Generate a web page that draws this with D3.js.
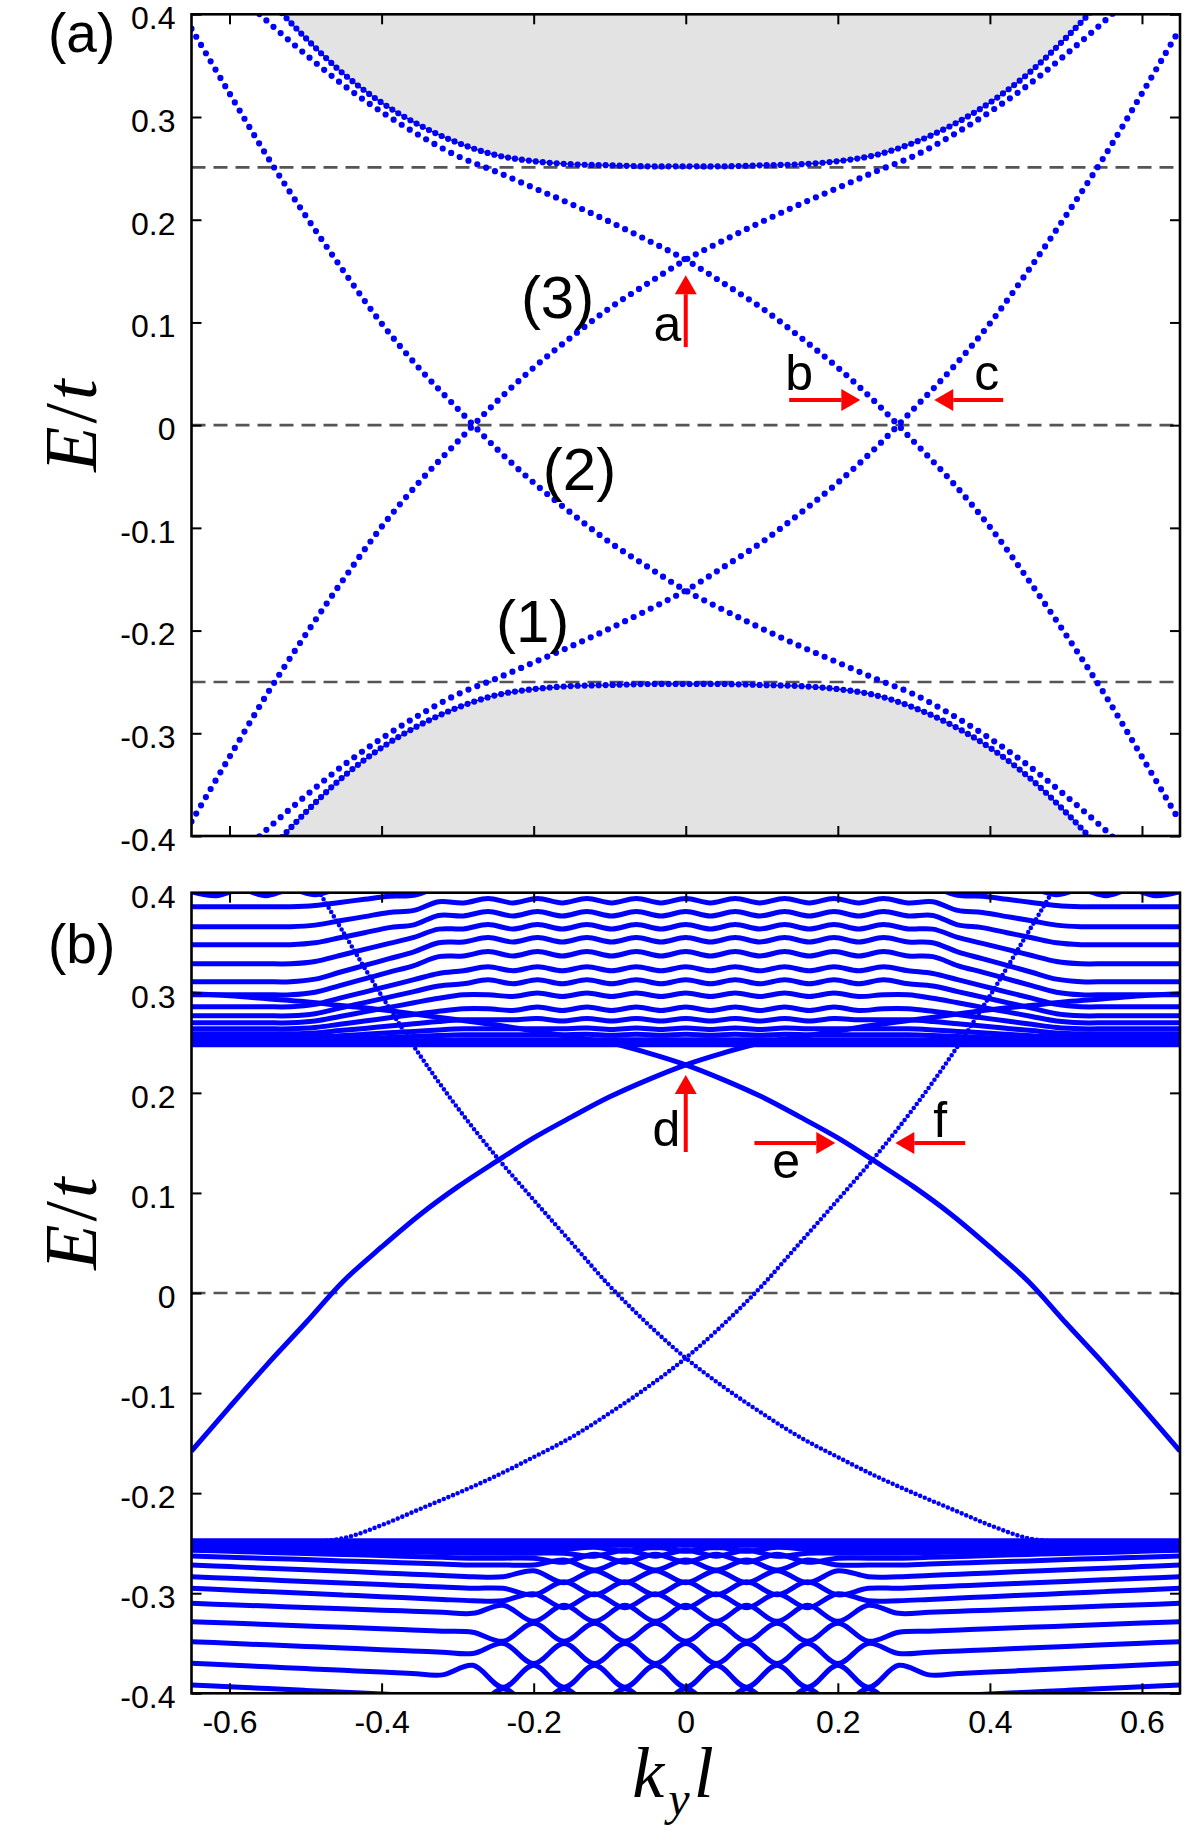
<!DOCTYPE html>
<html><head><meta charset="utf-8">
<script src="https://cdn.jsdelivr.net/npm/d3@7"></script>
<style>body{margin:0;background:#fff}</style>
</head><body>
<svg id="chart" width="1200" height="1843" xmlns="http://www.w3.org/2000/svg"></svg>
<script>
// ---------------- DATA ----------------
const kTicks = [-0.6,-0.4,-0.2,0,0.2,0.4,0.6];
const kTickLabels = ["-0.6","-0.4","-0.2","0","0.2","0.4","0.6"];
const eTicks = [-0.4,-0.3,-0.2,-0.1,0,0.1,0.2,0.3,0.4];
const eTickLabels = ["-0.4","-0.3","-0.2","-0.1","0","0.1","0.2","0.3","0.4"];
const dashedA = [-0.25, 0, 0.251];
const dashedB = [0];

const kGrid = [-0.65,-0.6,-0.55,-0.5,-0.45,-0.4,-0.35,-0.3,-0.25,-0.2,-0.15,-0.1,-0.05,0,0.05,0.1,0.15,0.2,0.25,0.3,0.35,0.4,0.45,0.5,0.55,0.6,0.65];

// panel (a): four edge-state branches
const snakeA1 = [0.386,0.323,0.261,0.204,0.150,0.099,0.055,0.016,-0.022,-0.056,-0.086,-0.114,-0.138,-0.161,-0.180,-0.198,-0.215,-0.231,-0.247,-0.262,-0.282,-0.305,-0.331,-0.361,-0.393,-0.428,-0.465];
const snakeA2 = [-0.386,-0.323,-0.261,-0.204,-0.150,-0.099,-0.055,-0.016,0.022,0.056,0.086,0.114,0.138,0.161,0.180,0.198,0.215,0.231,0.247,0.262,0.282,0.305,0.331,0.361,0.393,0.428,0.465];
const snakeA3 = [-0.465,-0.428,-0.393,-0.361,-0.331,-0.305,-0.282,-0.262,-0.247,-0.231,-0.215,-0.198,-0.180,-0.161,-0.138,-0.114,-0.086,-0.056,-0.022,0.016,0.055,0.099,0.150,0.204,0.261,0.323,0.386];
const snakeA4 = [0.465,0.428,0.393,0.361,0.331,0.305,0.282,0.262,0.247,0.231,0.215,0.198,0.180,0.161,0.138,0.114,0.086,0.056,0.022,-0.016,-0.055,-0.099,-0.150,-0.204,-0.261,-0.323,-0.386];

// panel (a): bulk band edges
const bandK = [-0.55,-0.5,-0.45,-0.4,-0.35,-0.3,-0.25,-0.2,-0.15,-0.1,-0.05,0,0.05,0.1,0.15,0.2,0.25,0.3,0.35,0.4,0.45,0.5,0.55];
const bandUpperA = [0.416,0.377,0.342,0.314,0.292,0.275,0.263,0.257,0.254,0.253,0.252,0.252,0.252,0.253,0.254,0.257,0.263,0.275,0.292,0.314,0.342,0.377,0.416];
const bandLowerA = [-0.416,-0.377,-0.342,-0.314,-0.292,-0.275,-0.263,-0.257,-0.254,-0.253,-0.252,-0.252,-0.252,-0.253,-0.254,-0.257,-0.263,-0.275,-0.292,-0.314,-0.342,-0.377,-0.416];

// panel (b): edge-state branches
const edgeBL = [-0.158,-0.114,-0.071,-0.030,0.012,0.046,0.078,0.106,0.131,0.155,0.176,0.196,0.213,0.228,0.240,0.250,0.256,0.262,0.268,0.273,0.278,0.283,0.287,0.291,0.294,0.297,0.299];
const edgeBR = [0.299,0.297,0.294,0.291,0.287,0.283,0.278,0.273,0.268,0.262,0.256,0.250,0.240,0.228,0.213,0.196,0.176,0.155,0.131,0.106,0.078,0.046,0.012,-0.030,-0.071,-0.114,-0.158];
const kS1 = [-0.483,-0.45,-0.4,-0.35,-0.3,-0.25,-0.2,-0.15,-0.1,-0.05,0,0.05,0.1,0.15,0.2,0.25,0.3,0.35,0.4,0.45,0.5,0.55,0.6,0.65];
const edgeBS1 = [0.402,0.360,0.297,0.238,0.185,0.137,0.093,0.050,0.007,-0.031,-0.065,-0.094,-0.120,-0.144,-0.164,-0.183,-0.200,-0.216,-0.232,-0.245,-0.249,-0.250,-0.251,-0.251];
const kS2 = [-0.65,-0.6,-0.55,-0.5,-0.45,-0.4,-0.35,-0.3,-0.25,-0.2,-0.15,-0.1,-0.05,0,0.05,0.1,0.15,0.2,0.25,0.3,0.35,0.4,0.45,0.483];
const edgeBS2 = [-0.251,-0.251,-0.250,-0.249,-0.245,-0.232,-0.216,-0.200,-0.183,-0.164,-0.144,-0.120,-0.094,-0.065,-0.031,0.007,0.050,0.093,0.137,0.185,0.238,0.297,0.360,0.402];

// panel (b): upper bulk subbands
const kUp = [-0.65,-0.6175,-0.585,-0.5525,-0.52,-0.4875,-0.455,-0.4225,-0.39,-0.3575,-0.325,-0.2925,-0.26,-0.2275,-0.195,-0.1625,-0.13,-0.0975,-0.065,-0.0325,0,0.0325,0.065,0.0975,0.13,0.1625,0.195,0.2275,0.26,0.2925,0.325,0.3575,0.39,0.4225,0.455,0.4875,0.52,0.5525,0.585,0.6175,0.65];
const upperBands = [
 [0.401,0.397,0.403,0.397,0.403,0.398,0.404,0.404,0.410,0.412,0.418,0.418,0.418,0.418,0.418,0.418,0.418,0.418,0.418,0.418,0.418,0.418,0.418,0.418,0.418,0.418,0.418,0.418,0.418,0.418,0.418,0.412,0.410,0.404,0.404,0.398,0.403,0.397,0.403,0.397,0.401],
 [0.386,0.386,0.386,0.386,0.386,0.3872,0.3903,0.3934,0.3965,0.3973,0.4048,0.4028,0.4072,0.4028,0.4072,0.4028,0.4072,0.4028,0.4072,0.4028,0.4072,0.4028,0.4072,0.4028,0.4072,0.4028,0.4072,0.4028,0.4072,0.4028,0.4048,0.3973,0.3965,0.3934,0.3903,0.3872,0.386,0.386,0.386,0.386,0.386],
 [0.366,0.366,0.366,0.366,0.366,0.3676,0.3719,0.3761,0.3803,0.3823,0.391,0.3898,0.3942,0.3898,0.3942,0.3898,0.3942,0.3898,0.3942,0.3898,0.3942,0.3898,0.3942,0.3898,0.3942,0.3898,0.3942,0.3898,0.3942,0.3898,0.391,0.3823,0.3803,0.3761,0.3719,0.3676,0.366,0.366,0.366,0.366,0.366],
 [0.348,0.348,0.348,0.348,0.348,0.3499,0.355,0.360,0.3651,0.3679,0.3773,0.3768,0.3812,0.3768,0.3812,0.3768,0.3812,0.3768,0.3812,0.3768,0.3812,0.3768,0.3812,0.3768,0.3812,0.3768,0.3812,0.3768,0.3812,0.3768,0.3773,0.3679,0.3651,0.360,0.355,0.3499,0.348,0.348,0.348,0.348,0.348],
 [0.329,0.329,0.329,0.329,0.329,0.3313,0.3373,0.3433,0.3494,0.3554,0.3636,0.3638,0.3682,0.3638,0.3682,0.3638,0.3682,0.3638,0.3682,0.3638,0.3682,0.3638,0.3682,0.3638,0.3682,0.3638,0.3682,0.3638,0.3682,0.3638,0.3636,0.3554,0.3494,0.3433,0.3373,0.3313,0.329,0.329,0.329,0.329,0.329],
 [0.311,0.311,0.311,0.311,0.311,0.3136,0.3205,0.3273,0.3341,0.3409,0.350,0.3508,0.3552,0.3508,0.3552,0.3508,0.3552,0.3508,0.3552,0.3508,0.3552,0.3508,0.3552,0.3508,0.3552,0.3508,0.3552,0.3508,0.3552,0.3508,0.350,0.3409,0.3341,0.3273,0.3205,0.3136,0.311,0.311,0.311,0.311,0.311],
 [0.298,0.298,0.298,0.298,0.298,0.3006,0.3072,0.3139,0.3206,0.3272,0.3361,0.3368,0.3412,0.3368,0.3412,0.3368,0.3412,0.3368,0.3412,0.3368,0.3412,0.3368,0.3412,0.3368,0.3412,0.3368,0.3412,0.3368,0.3412,0.3368,0.3361,0.3272,0.3206,0.3139,0.3072,0.3006,0.298,0.298,0.298,0.298,0.298],
 [0.286,0.286,0.286,0.286,0.286,0.2884,0.2946,0.3007,0.3069,0.3131,0.3193,0.322,0.326,0.322,0.326,0.322,0.326,0.322,0.326,0.322,0.326,0.322,0.326,0.322,0.326,0.322,0.326,0.322,0.326,0.322,0.3193,0.3131,0.3069,0.3007,0.2946,0.2884,0.286,0.286,0.286,0.286,0.286],
 [0.277,0.277,0.277,0.277,0.277,0.2791,0.2847,0.2902,0.2957,0.3012,0.3068,0.309,0.313,0.309,0.313,0.309,0.313,0.309,0.313,0.309,0.313,0.309,0.313,0.309,0.313,0.309,0.313,0.309,0.313,0.309,0.3068,0.3012,0.2957,0.2902,0.2847,0.2791,0.277,0.277,0.277,0.277,0.277],
 [0.270,0.270,0.270,0.270,0.270,0.2718,0.2763,0.2809,0.2854,0.290,0.2945,0.298,0.298,0.2963,0.2997,0.2963,0.2997,0.2963,0.2997,0.2963,0.2997,0.2963,0.2997,0.2963,0.2997,0.2963,0.2997,0.2963,0.298,0.298,0.2945,0.290,0.2854,0.2809,0.2763,0.2718,0.270,0.270,0.270,0.270,0.270],
 [0.264,0.264,0.264,0.264,0.264,0.2653,0.2685,0.2718,0.275,0.2783,0.2815,0.284,0.284,0.2823,0.2857,0.2823,0.2857,0.2823,0.2857,0.2823,0.2857,0.2823,0.2857,0.2823,0.2857,0.2823,0.2857,0.2823,0.284,0.284,0.2815,0.2783,0.275,0.2718,0.2685,0.2653,0.264,0.264,0.264,0.264,0.264],
 [0.259,0.259,0.259,0.259,0.259,0.2599,0.2622,0.2644,0.2667,0.269,0.2713,0.273,0.273,0.273,0.2742,0.2718,0.2742,0.2718,0.2742,0.2718,0.2742,0.2718,0.2742,0.2718,0.2742,0.2718,0.2742,0.273,0.273,0.273,0.2713,0.269,0.2667,0.2644,0.2622,0.2599,0.259,0.259,0.259,0.259,0.259],
 [0.255,0.255,0.255,0.255,0.255,0.2556,0.257,0.2585,0.260,0.2614,0.2629,0.264,0.264,0.264,0.264,0.264,0.2648,0.2632,0.2648,0.2632,0.2648,0.2632,0.2648,0.2632,0.2648,0.264,0.264,0.264,0.264,0.264,0.2629,0.2614,0.260,0.2585,0.257,0.2556,0.255,0.255,0.255,0.255,0.255],
 [0.252,0.252,0.252,0.252,0.252,0.2524,0.2534,0.2543,0.2553,0.2563,0.2573,0.258,0.258,0.258,0.258,0.258,0.2585,0.2575,0.2585,0.2575,0.2585,0.2575,0.2585,0.2575,0.2585,0.258,0.258,0.258,0.258,0.258,0.2573,0.2563,0.2553,0.2543,0.2534,0.2524,0.252,0.252,0.252,0.252,0.252],
 [0.250,0.250,0.250,0.250,0.250,0.2502,0.2507,0.2512,0.2517,0.2521,0.2526,0.253,0.253,0.253,0.253,0.253,0.253,0.253,0.253,0.253,0.253,0.253,0.253,0.253,0.253,0.253,0.253,0.253,0.253,0.253,0.2526,0.2521,0.2517,0.2512,0.2507,0.2502,0.250,0.250,0.250,0.250,0.250],
 [0.249,0.249,0.249,0.249,0.249,0.249,0.2492,0.2494,0.2496,0.2497,0.2499,0.250,0.250,0.250,0.250,0.250,0.250,0.250,0.250,0.250,0.250,0.250,0.250,0.250,0.250,0.250,0.250,0.250,0.250,0.250,0.2499,0.2497,0.2496,0.2494,0.2492,0.249,0.249,0.249,0.249,0.249,0.249],
 [0.248,0.248,0.248,0.248,0.248,0.248,0.248,0.248,0.248,0.248,0.248,0.248,0.248,0.248,0.248,0.248,0.248,0.248,0.248,0.248,0.248,0.248,0.248,0.248,0.248,0.248,0.248,0.248,0.248,0.248,0.248,0.248,0.248,0.248,0.248,0.248,0.248,0.248,0.248,0.248,0.248]
];

// panel (b): lower bulk subbands
const kLow = [-0.65,-0.6,-0.55,-0.5,-0.45,-0.4,-0.36,-0.32,-0.28,-0.24,-0.2,-0.16,-0.12,-0.08,-0.04,0,0.04,0.08,0.12,0.16,0.2,0.24,0.28,0.32,0.36,0.4,0.45,0.5,0.55,0.6,0.65];
const lowerBands = [
 [-0.2475,-0.2475,-0.2475,-0.2475,-0.2475,-0.2475,-0.2475,-0.2475,-0.2475,-0.2475,-0.2475,-0.2475,-0.2475,-0.2475,-0.2475,-0.2475,-0.2475,-0.2475,-0.2475,-0.2475,-0.2475,-0.2475,-0.2475,-0.2475,-0.2475,-0.2475,-0.2475,-0.2475,-0.2475,-0.2475,-0.2475],
 [-0.2485,-0.2486,-0.2488,-0.2489,-0.249,-0.2492,-0.2493,-0.2494,-0.2495,-0.2495,-0.2495,-0.2495,-0.2495,-0.2495,-0.2503,-0.2487,-0.2503,-0.2495,-0.2495,-0.2495,-0.2495,-0.2495,-0.2495,-0.2494,-0.2493,-0.2492,-0.249,-0.2489,-0.2488,-0.2486,-0.2485],
 [-0.249,-0.2493,-0.2495,-0.2498,-0.2501,-0.2504,-0.2506,-0.2508,-0.251,-0.251,-0.251,-0.251,-0.251,-0.252,-0.250,-0.252,-0.250,-0.252,-0.251,-0.251,-0.251,-0.251,-0.251,-0.2508,-0.2506,-0.2504,-0.2501,-0.2498,-0.2495,-0.2493,-0.249],
 [-0.2495,-0.250,-0.2504,-0.2509,-0.2514,-0.2519,-0.2522,-0.2526,-0.253,-0.253,-0.253,-0.253,-0.253,-0.2515,-0.2545,-0.2515,-0.2545,-0.2515,-0.253,-0.253,-0.253,-0.253,-0.253,-0.2526,-0.2522,-0.2519,-0.2514,-0.2509,-0.2504,-0.250,-0.2495],
 [-0.2515,-0.2521,-0.2527,-0.2533,-0.2539,-0.2545,-0.255,-0.2555,-0.256,-0.256,-0.256,-0.256,-0.254,-0.258,-0.254,-0.258,-0.254,-0.258,-0.254,-0.256,-0.256,-0.256,-0.256,-0.2555,-0.255,-0.2545,-0.2539,-0.2533,-0.2527,-0.2521,-0.2515],
 [-0.254,-0.2548,-0.2556,-0.2564,-0.2572,-0.2581,-0.2587,-0.2594,-0.260,-0.260,-0.260,-0.260,-0.263,-0.257,-0.263,-0.257,-0.263,-0.257,-0.263,-0.260,-0.260,-0.260,-0.260,-0.2594,-0.2587,-0.2581,-0.2572,-0.2564,-0.2556,-0.2548,-0.254],
 [-0.257,-0.2581,-0.2592,-0.2602,-0.2613,-0.2624,-0.2633,-0.2641,-0.265,-0.265,-0.265,-0.269,-0.261,-0.269,-0.261,-0.269,-0.261,-0.269,-0.261,-0.269,-0.265,-0.265,-0.265,-0.2641,-0.2633,-0.2624,-0.2613,-0.2602,-0.2592,-0.2581,-0.257],
 [-0.2628,-0.264,-0.2652,-0.2664,-0.2677,-0.2689,-0.2699,-0.2708,-0.2718,-0.2718,-0.2718,-0.2668,-0.2768,-0.2668,-0.2768,-0.2668,-0.2768,-0.2668,-0.2768,-0.2668,-0.2718,-0.2718,-0.2718,-0.2708,-0.2699,-0.2689,-0.2677,-0.2664,-0.2652,-0.264,-0.2628],
 [-0.2718,-0.2734,-0.275,-0.2765,-0.2781,-0.2797,-0.281,-0.2822,-0.2835,-0.2835,-0.2775,-0.2895,-0.2775,-0.2895,-0.2775,-0.2895,-0.2775,-0.2895,-0.2775,-0.2895,-0.2775,-0.2835,-0.2835,-0.2822,-0.281,-0.2797,-0.2781,-0.2765,-0.275,-0.2734,-0.2718],
 [-0.2835,-0.2851,-0.2866,-0.2882,-0.2898,-0.2913,-0.2926,-0.2938,-0.2951,-0.2951,-0.3016,-0.2886,-0.3016,-0.2886,-0.3016,-0.2886,-0.3016,-0.2886,-0.3016,-0.2886,-0.3016,-0.2951,-0.2951,-0.2938,-0.2926,-0.2913,-0.2898,-0.2882,-0.2866,-0.2851,-0.2835],
 [-0.2951,-0.2968,-0.2984,-0.3001,-0.3018,-0.3035,-0.3048,-0.3062,-0.3075,-0.3075,-0.3005,-0.3145,-0.3005,-0.3145,-0.3005,-0.3145,-0.3005,-0.3145,-0.3005,-0.3145,-0.3005,-0.3075,-0.3075,-0.3062,-0.3048,-0.3035,-0.3018,-0.3001,-0.2984,-0.2968,-0.2951],
 [-0.3101,-0.3115,-0.3128,-0.3142,-0.3155,-0.3169,-0.3179,-0.319,-0.3201,-0.3121,-0.3281,-0.3121,-0.3281,-0.3121,-0.3281,-0.3121,-0.3281,-0.3121,-0.3281,-0.3121,-0.3281,-0.3121,-0.3201,-0.319,-0.3179,-0.3169,-0.3155,-0.3142,-0.3128,-0.3115,-0.3101],
 [-0.3284,-0.3298,-0.3313,-0.3327,-0.3341,-0.3356,-0.3367,-0.3379,-0.339,-0.348,-0.330,-0.348,-0.330,-0.348,-0.330,-0.348,-0.330,-0.348,-0.330,-0.348,-0.330,-0.348,-0.339,-0.3379,-0.3367,-0.3356,-0.3341,-0.3327,-0.3313,-0.3298,-0.3284],
 [-0.3484,-0.350,-0.3516,-0.3532,-0.3548,-0.3564,-0.3577,-0.3589,-0.3602,-0.3502,-0.3702,-0.3502,-0.3702,-0.3502,-0.3702,-0.3502,-0.3702,-0.3502,-0.3702,-0.3502,-0.3702,-0.3502,-0.3602,-0.3589,-0.3577,-0.3564,-0.3548,-0.3532,-0.3516,-0.350,-0.3484],
 [-0.370,-0.3718,-0.3735,-0.3753,-0.377,-0.3788,-0.3802,-0.3816,-0.372,-0.394,-0.372,-0.394,-0.372,-0.394,-0.372,-0.394,-0.372,-0.394,-0.372,-0.394,-0.372,-0.394,-0.372,-0.3816,-0.3802,-0.3788,-0.377,-0.3753,-0.3735,-0.3718,-0.370],
 [-0.3917,-0.3935,-0.3953,-0.3971,-0.3989,-0.4007,-0.4021,-0.4036,-0.4145,-0.3955,-0.4145,-0.3955,-0.4145,-0.3955,-0.4145,-0.3955,-0.4145,-0.3955,-0.4145,-0.3955,-0.4145,-0.3955,-0.4145,-0.4036,-0.4021,-0.4007,-0.3989,-0.3971,-0.3953,-0.3935,-0.3917]
];

// annotations (data coordinates)
const arrowsA = [{label:"a", k0:0, e0:0.076, k1:0, e1:0.146, tk:-0.0425, te:0.082},
                 {label:"b", k0:0.136, e0:0.0244, k1:0.2296, e1:0.0244, tk:0.1307, te:0.0342},
                 {label:"c", k0:0.4175, e0:0.0244, k1:0.3268, e1:0.0244, tk:0.3794, te:0.0342}];
const arrowsB = [{label:"d", k0:0, e0:0.1409, k1:0, e1:0.2178, tk:-0.0438, te:0.1469},
                 {label:"e", k0:0.0903, e0:0.1499, k1:0.1967, e1:0.1499, tk:0.1139, te:0.1149},
                 {label:"f", k0:0.3675, e0:0.1499, k1:0.2756, e1:0.1499, tk:0.3255, te:0.1559}];
const regionLabels = [{t:"(3)", k:-0.1686, e:0.1043},{t:"(2)", k:-0.1397, e:-0.0632},{t:"(1)", k:-0.2014, e:-0.2109}];

// ---------------- DRAWING ----------------
const svg = d3.select("#chart");
const X0 = 191.5, X1 = 1180;
const A_TOP = 14.3, A_BOT = 836, B_TOP = 892.7, B_BOT = 1693.3;
const x = d3.scaleLinear().domain([-0.65,0.65]).range([X0,X1]);
const yA = d3.scaleLinear().domain([-0.4,0.4]).range([A_BOT,A_TOP]);
const yB = d3.scaleLinear().domain([-0.4,0.4]).range([B_BOT,B_TOP]);
const BLUE = "#0000ff", RED = "#ff0000";
const SANS = "'Liberation Sans', Arial, Helvetica, sans-serif";
const SERIF = "'Liberation Serif', 'Times New Roman', serif";

const defs = svg.append("defs");
defs.append("clipPath").attr("id","clipA").append("rect")
  .attr("x",X0).attr("y",A_TOP).attr("width",X1-X0).attr("height",A_BOT-A_TOP);
defs.append("clipPath").attr("id","clipB").append("rect")
  .attr("x",X0).attr("y",B_TOP).attr("width",X1-X0).attr("height",B_BOT-B_TOP);

function lineGen(ks, y){
  return d3.line().x((d,i)=>x(ks[i])).y(d=>y(d)).curve(d3.curveCatmullRom.alpha(0.5));
}

// ---- panel (a)
const gA = svg.append("g").attr("clip-path","url(#clipA)");
const areaUp = d3.area().x((d,i)=>x(bandK[i])).y0(yA(0.4)).y1(d=>yA(d)).curve(d3.curveCatmullRom.alpha(0.5));
const areaDn = d3.area().x((d,i)=>x(bandK[i])).y0(yA(-0.4)).y1(d=>yA(d)).curve(d3.curveCatmullRom.alpha(0.5));
gA.append("path").attr("d",areaUp(bandUpperA)).attr("fill","#e3e3e3");
gA.append("path").attr("d",areaDn(bandLowerA)).attr("fill","#e3e3e3");
[bandUpperA, bandLowerA].forEach(s=>{
  gA.append("path").attr("d",lineGen(bandK,yA)(s)).attr("fill","none").attr("stroke","#000").attr("stroke-width",1.2);
});
dashedA.forEach(v=>{
  gA.append("line").attr("x1",X0).attr("x2",X1).attr("y1",yA(v)).attr("y2",yA(v))
    .attr("stroke","#555").attr("stroke-width",2.6).attr("stroke-dasharray","14,8");
});
function dotted(g, ks, s, y, gap, w){
  g.append("path").attr("d",lineGen(ks,y)(s)).attr("fill","none")
    .attr("stroke",BLUE).attr("stroke-width",w).attr("stroke-linecap","round")
    .attr("stroke-dasharray",`0,${gap}`);
}
dotted(gA, bandK, bandUpperA, yA, 7, 6.2);
dotted(gA, bandK, bandLowerA, yA, 7, 6.2);
[snakeA1, snakeA2, snakeA3, snakeA4].forEach(s=>dotted(gA, kGrid, s, yA, 9.5, 6.2));

// ---- panel (b)
const gB = svg.append("g").attr("clip-path","url(#clipB)");
dashedB.forEach(v=>{
  gB.append("line").attr("x1",X0).attr("x2",X1).attr("y1",yB(v)).attr("y2",yB(v))
    .attr("stroke","#555").attr("stroke-width",2.6).attr("stroke-dasharray","14,8");
});
upperBands.forEach(s=>{
  gB.append("path").attr("d",lineGen(kUp,yB)(s)).attr("fill","none")
    .attr("stroke",BLUE).attr("stroke-width",5);
});
lowerBands.forEach(s=>{
  gB.append("path").attr("d",lineGen(kLow,yB)(s)).attr("fill","none")
    .attr("stroke",BLUE).attr("stroke-width",5);
});
[edgeBL, edgeBR].forEach(s=>{
  gB.append("path").attr("d",lineGen(kGrid,yB)(s)).attr("fill","none")
    .attr("stroke",BLUE).attr("stroke-width",5);
});
dotted(gB, kS1, edgeBS1, yB, 5, 4.6);
dotted(gB, kS2, edgeBS2, yB, 5, 4.6);

// ---- axes & frames
function axes(y, top, bot, showXLabels){
  const fmtE = d => eTickLabels[eTicks.indexOf(d)];
  const fmtK = d => kTickLabels[kTicks.indexOf(d)];
  const gl = svg.append("g").attr("transform",`translate(${X0},0)`)
    .call(d3.axisLeft(y).tickValues(eTicks).tickSize(-10).tickSizeOuter(0).tickPadding(16).tickFormat(fmtE));
  gl.selectAll(".tick text").attr("dy","0.45em");
  const gr = svg.append("g").attr("transform",`translate(${X1},0)`)
    .call(d3.axisRight(y).tickValues(eTicks).tickSize(-10).tickSizeOuter(0).tickFormat(""));
  const gt = svg.append("g").attr("transform",`translate(0,${top})`)
    .call(d3.axisTop(x).tickValues(kTicks).tickSize(-10).tickSizeOuter(0).tickFormat(""));
  const gb = svg.append("g").attr("transform",`translate(0,${bot})`)
    .call(d3.axisBottom(x).tickValues(kTicks).tickSize(-10).tickSizeOuter(0).tickPadding(17)
      .tickFormat(showXLabels ? fmtK : ""));
  [gl,gr,gt,gb].forEach(g=>{
    g.select(".domain").remove();
    g.selectAll(".tick line").attr("stroke","#000").attr("stroke-width",2);
    g.selectAll("text").attr("font-family",SANS).attr("font-size",32).attr("fill","#000");
  });
  svg.append("rect").attr("x",X0).attr("y",top).attr("width",X1-X0).attr("height",bot-top)
    .attr("fill","none").attr("stroke","#000").attr("stroke-width",2.6);
}
axes(yA, A_TOP, A_BOT, false);
axes(yB, B_TOP, B_BOT, true);

// ---- annotations
function arrow(a, y){
  const x0=x(a.k0), y0=y(a.e0), x1=x(a.k1), y1=y(a.e1);
  const ang=Math.atan2(y1-y0,x1-x0), L=19, Wd=11;
  const bx=x1-L*Math.cos(ang), by=y1-L*Math.sin(ang);
  svg.append("line").attr("x1",x0).attr("y1",y0).attr("x2",bx).attr("y2",by)
    .attr("stroke",RED).attr("stroke-width",4);
  const px=-Math.sin(ang)*Wd, py=Math.cos(ang)*Wd;
  svg.append("path").attr("d",`M${x1},${y1}L${bx+px},${by+py}L${bx-px},${by-py}Z`).attr("fill",RED);
  svg.append("text").attr("x",x(a.tk)).attr("y",y(a.te)).text(a.label)
    .attr("font-family",SANS).attr("font-size",50).attr("fill","#000");
}
arrowsA.forEach(a=>arrow(a,yA));
arrowsB.forEach(a=>arrow(a,yB));
regionLabels.forEach(r=>{
  svg.append("text").attr("x",x(r.k)).attr("y",yA(r.e)).attr("text-anchor","middle").text(r.t)
    .attr("font-family",SANS).attr("font-size",60).attr("fill","#000");
});
svg.append("text").attr("x",48).attr("y",52).text("(a)").attr("font-family",SANS).attr("font-size",55);
svg.append("text").attr("x",48).attr("y",963).text("(b)").attr("font-family",SANS).attr("font-size",55);

// axis titles
function eLabel(cy){
  const t = svg.append("text").attr("transform",`translate(96,${cy}) rotate(-90)`)
    .attr("text-anchor","middle").attr("font-family",SERIF).attr("font-size",74)
    .attr("letter-spacing",3);
  t.append("tspan").attr("font-style","italic").text("E");
  t.append("tspan").text("/");
  t.append("tspan").attr("font-style","italic").text("t");
}
eLabel(424); eLabel(1222);
const kl = svg.append("text").attr("x",675).attr("y",1797).attr("text-anchor","middle")
  .attr("font-family",SERIF).attr("font-size",72).attr("font-style","italic").attr("letter-spacing",4);
kl.append("tspan").text("k");
kl.append("tspan").attr("font-size",48).attr("dy",18).text("y");
kl.append("tspan").attr("dy",-18).text("l");
</script>
</body></html>
